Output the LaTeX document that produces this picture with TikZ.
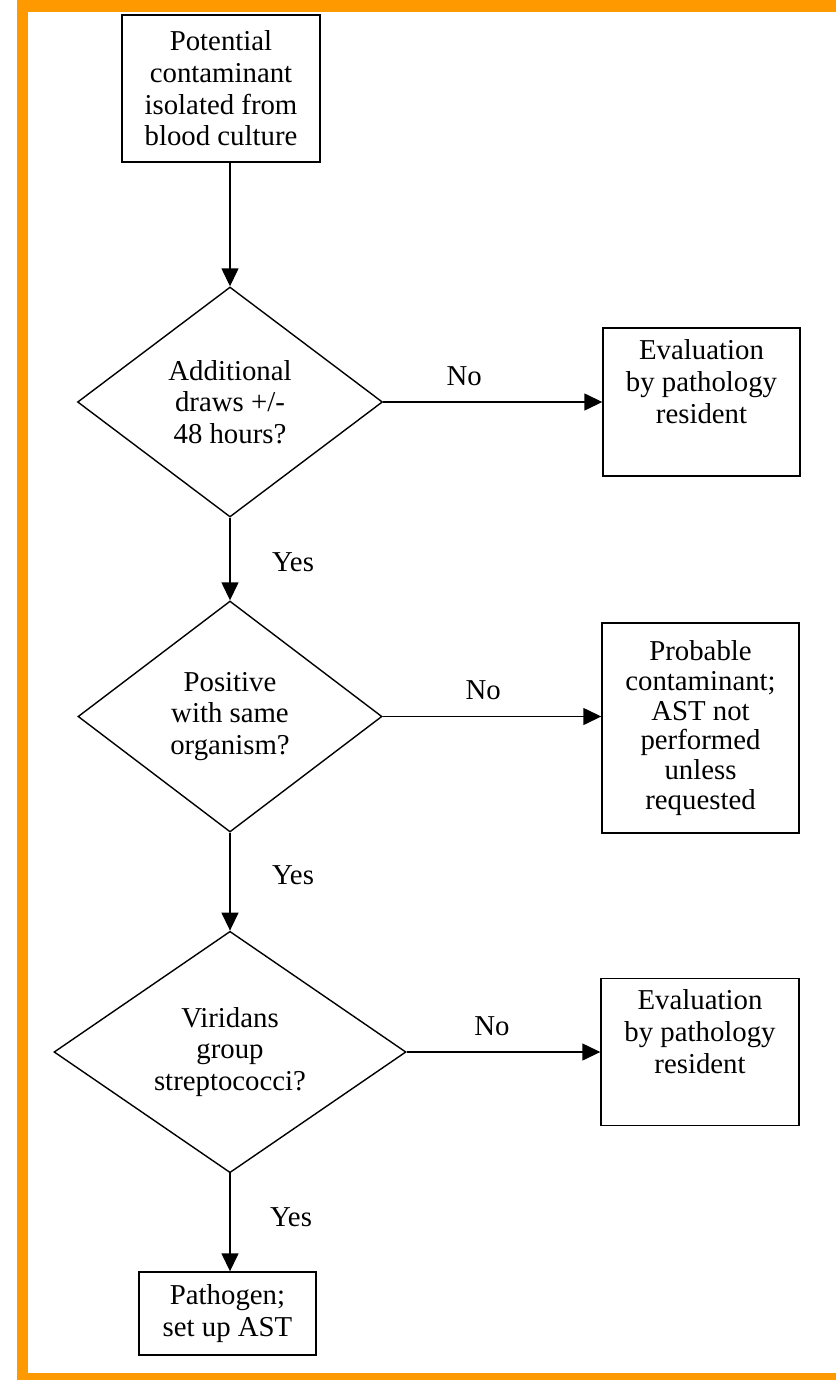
\documentclass[tikz,border=0pt]{standalone}
\usepackage{fontspec}
\setmainfont{Liberation Serif}
\usepackage{xcolor}
\usetikzlibrary{shapes.geometric,arrows.meta,positioning,calc}
\definecolor{frameorange}{RGB}{255,153,0}

\begin{document}
\begin{tikzpicture}[x=1pt, y=-1pt,
    font=\fontsize{28.8}{31.7}\selectfont,
    box/.style={draw, line width=1.4pt, align=center, inner sep=0pt},
    decision/.style={draw, diamond, line width=1.4pt, align=center, inner sep=0pt},
    flow/.style={line width=1.4pt, -{Triangle[length=18pt,width=17pt]}}]
    % Page and orange frame
    \useasboundingbox (0,0) rectangle (836,1380);
    \fill[white] (0,0) rectangle (836,1380);
    \fill[frameorange] (17,0) rectangle (836,12);
    \fill[frameorange] (17,0) rectangle (28,1380);
    \fill[frameorange] (17,1373) rectangle (836,1380);

    % Main column
    \node[box, minimum width=198pt, minimum height=147pt] (start) at (221,88.5) {Potential\\contaminant\\isolated from\\blood culture};
    \node[decision, minimum width=305pt, minimum height=230pt] (draws) at (230,402) {Additional\\draws +/-\\48 hours?};
    \node[decision, minimum width=304pt, minimum height=231pt] (same) at (230,716.5) {Positive\\with same\\organism?};
    \node[decision, minimum width=352pt, minimum height=228pt] (viridans) at (230,1052) {Viridans\\group\\streptococci?};
    \node[box, minimum width=177pt, minimum height=83pt] (pathogen) at (227.5,1313.5) {Pathogen;\\set up AST};

    % Side column
    \node[box, minimum width=197pt, minimum height=148pt] (evalA) at (701.5,402) {Evaluation\\by pathology\\resident\\\strut};
    \node[box, minimum width=197pt, minimum height=210pt, font=\fontsize{28.8}{29.8}\selectfont] (probable) at (700.5,728) {Probable\\contaminant;\\AST not\\performed\\unless\\requested};
    \node[box, minimum width=198pt, minimum height=147pt] (evalB) at (700,1052) {Evaluation\\by pathology\\resident\\\strut};

    % Yes arrows
    \draw[flow] (start.south -| draws.north) -- (draws.north);
    \draw[flow] (draws.south) -- node[pos=0.54, xshift=63pt] {Yes} (same.north);
    \draw[flow] (same.south) -- node[pos=0.43, xshift=63pt] {Yes} (viridans.north);
    \draw[flow] (viridans.south) -- node[pos=0.45, xshift=61pt] {Yes} (viridans.south |- pathogen.north);

    % No arrows
    \draw[flow] (draws.east) -- node[pos=0.37, yshift=26pt] {No} (draws.east -| evalA.west);
    \draw[flow] (same.east) -- node[pos=0.46, yshift=26pt] {No} (same.east -| probable.west);
    \draw[flow] (viridans.east) -- node[pos=0.44, yshift=26pt] {No} (viridans.east -| evalB.west);
\end{tikzpicture}
\end{document}
